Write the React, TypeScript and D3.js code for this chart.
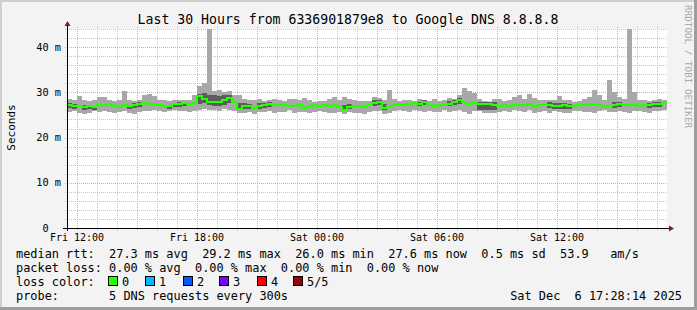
import React from 'react';
import * as d3 from 'd3';

// ---- data (15-minute bins starting Fri 11:30) ----
const medianRtt = [
  27.2,27.0,26.9,26.8,27.0,26.8,27.1,27.3,27.4,26.9,26.8,27.1,27.0,27.3,27.5,27.6,27.5,27.4,27.3,27.0,26.9,27.4,27.5,27.6,
  27.4,27.6,29.2,28.6,27.9,27.9,27.8,28.2,28.8,27.9,26.4,27.0,26.9,26.5,27.0,27.1,27.4,27.2,27.1,27.3,27.0,26.9,27.2,26.6,
  26.9,27.2,27.0,27.1,27.0,27.2,26.8,26.0,26.8,26.9,27.0,26.8,27.1,27.6,27.9,26.6,26.9,27.3,27.5,27.4,27.3,27.6,27.4,27.8,
  27.2,27.0,27.1,27.3,27.4,27.8,28.2,27.9,27.5,27.6,27.4,27.4,27.5,27.3,26.9,27.2,27.0,27.3,27.2,27.1,27.4,26.8,27.2,27.3,
  27.3,27.0,26.9,27.1,26.9,27.0,27.3,27.2,27.4,27.5,27.3,26.8,27.0,27.2,27.4,27.1,27.2,27.3,27.0,27.2,27.3,27.4,27.5,27.6,
];
const pingMin = [
  25.6,25.8,25.4,25.3,25.5,25.8,25.6,25.9,25.7,25.4,25.6,25.8,25.4,25.3,25.7,25.9,25.8,26.0,25.8,25.7,25.9,26.0,25.9,25.8,
  25.7,25.9,26.0,26.3,26.0,26.2,25.9,26.3,26.1,25.8,25.5,25.4,25.6,25.3,25.7,25.6,25.9,25.5,25.7,25.6,26.0,25.5,25.7,25.6,
  25.5,25.6,25.8,25.6,25.4,25.5,25.7,25.2,25.6,25.5,25.4,25.2,25.6,25.9,25.8,25.3,25.5,25.8,26.0,25.9,25.7,26.0,25.8,25.7,
  25.9,25.7,25.6,26.0,25.7,25.9,26.0,25.6,25.3,25.8,25.8,25.4,25.5,25.5,25.7,25.9,25.7,26.0,25.9,25.7,26.0,25.5,25.7,25.9,
  25.5,25.8,25.6,25.4,25.5,25.8,25.9,25.7,25.6,25.5,25.8,26.0,25.6,25.7,25.9,25.7,25.5,25.8,25.9,25.7,25.5,25.9,25.8,26.0,
];
const pingLow = [
  26.5,26.4,26.7,26.2,26.3,26.2,26.9,27.1,27.2,26.7,26.6,26.9,26.3,26.5,26.8,27.4,27.3,27.2,27.1,26.8,26.4,26.7,26.8,26.9,
  27.2,27.4,27.5,27.6,27.2,27.0,27.0,27.3,27.6,27.7,26.0,26.4,26.3,26.3,26.4,26.5,26.8,27.0,26.9,27.1,26.8,26.7,27.0,26.4,
  26.7,27.0,26.8,26.9,26.8,27.0,26.6,25.8,26.3,26.7,26.8,26.6,26.9,27.0,27.1,26.1,26.7,27.1,27.3,27.2,27.1,27.4,26.9,27.2,
  27.0,26.8,26.9,27.1,26.9,27.2,27.5,27.7,27.3,27.4,26.2,26.1,26.2,26.1,26.7,27.0,26.8,27.1,27.0,26.9,27.2,26.6,27.0,27.1,
  26.5,26.3,26.3,26.4,26.3,26.8,27.1,27.0,27.2,27.3,27.1,26.6,26.8,26.6,26.8,26.9,27.0,27.1,26.8,27.0,26.6,26.7,26.8,27.4,
];
const pingHigh = [
  27.6,27.4,27.1,27.1,27.3,27.0,27.3,27.5,27.6,27.1,27.0,27.3,27.3,27.6,27.8,27.8,27.7,27.6,27.5,27.2,27.3,27.7,27.9,27.9,
  27.6,27.8,29.6,29.8,29.4,29.3,29.2,29.4,29.5,28.1,27.6,27.6,27.5,26.7,27.6,27.6,27.9,27.4,27.3,27.5,27.2,27.1,27.4,26.8,
  27.1,27.4,27.2,27.3,27.2,27.4,27.0,27.1,27.4,27.1,27.2,27.0,27.3,28.2,28.3,27.4,27.1,27.5,27.7,27.6,27.5,27.8,27.9,28.3,
  27.4,27.2,27.3,27.5,28.0,28.4,28.7,28.1,27.7,27.8,27.9,27.9,27.9,27.8,27.1,27.4,27.2,27.5,27.4,27.3,27.6,27.0,27.4,27.5,
  27.8,27.6,27.6,27.7,27.5,27.2,27.5,27.4,27.6,27.7,27.5,27.0,27.2,27.8,27.9,27.3,27.4,27.5,27.2,27.4,27.7,27.8,27.9,27.8,
];
const pingMax = [
  28.6,28.3,29.1,28.2,28.0,28.3,28.9,29.0,28.4,28.1,28.3,30.3,28.2,28.0,28.4,29.4,29.6,29.1,28.3,28.2,28.0,28.2,28.3,28.2,
  28.3,29.5,31.5,32.0,50.0,30.2,30.5,30.0,30.3,29.4,29.5,28.5,28.2,28.3,28.5,28.0,28.4,28.6,28.2,28.1,28.5,28.6,28.3,28.7,
  28.2,27.9,28.1,28.0,28.6,28.9,28.3,28.9,28.6,28.2,28.0,28.1,28.0,28.9,28.7,28.4,30.6,28.5,28.1,28.3,28.2,28.0,28.5,28.3,
  28.0,28.6,28.0,28.2,28.8,28.6,29.4,31.0,30.4,29.8,28.5,28.0,27.9,28.5,28.6,28.1,28.4,29.0,29.5,28.6,29.7,28.8,28.3,28.4,
  28.2,28.3,29.1,28.4,28.2,27.9,28.0,28.5,29.0,30.5,29.3,28.4,32.7,30.1,29.0,28.5,44.0,30.0,28.4,28.2,28.0,28.3,28.6,28.2,
];

const xTickLabels = ['Fri 12:00', 'Fri 18:00', 'Sat 00:00', 'Sat 06:00', 'Sat 12:00'];
const yMajorTicks = [0, 10, 20, 30, 40];
const yTickLabels = ['0  ', '10 m', '20 m', '30 m', '40 m'];
const lossLabels = ['0', '1', '2', '3', '4', '5/5'];
const lossColors = ['#26ff00', '#00b8ff', '#0059ff', '#7e00ff', '#ff0000', '#a10000'];
const legendLines = [
  'median rtt:  27.3 ms avg  29.2 ms max  26.0 ms min  27.6 ms now  0.5 ms sd  53.9   am/s',
  'packet loss: 0.00 % avg  0.00 % max  0.00 % min  0.00 % now',
  'loss color:',
  'probe:       5 DNS requests every 300s',
];
const title = 'Last 30 Hours from 6336901879e8 to Google DNS 8.8.8.8';
const stamp = 'Sat Dec  6 17:28:14 2025';

const W = 697, H = 310;
const L = 67, R = 667, B = 228, T = 29;
const MONO = "'DejaVu Sans Mono', monospace";

export default function App() {
  const t0 = new Date(2025, 11, 5, 11, 30);
  const t1 = new Date(2025, 11, 6, 17, 30);
  const x = d3.scaleTime().domain([t0, t1]).range([L, R]);
  const y = d3.scaleLinear().domain([0, 44]).range([B, T]);
  const binTime = (i: number) => d3.timeMinute.offset(t0, 15 * i);

  const hours = d3.timeHour.range(d3.timeHour.ceil(t0), t1);
  const minorH = hours.filter((h) => h.getHours() % 3 !== 0);
  const majorH = hours.filter((h) => h.getHours() % 3 === 0);
  const labelH = hours.filter((h) => h.getHours() % 6 === 0);
  const yMinor = d3.range(2, 44.01, 2).filter((v) => v % 10 !== 0);

  const medLine = d3
    .line<number>()
    .x((_, i) => x(binTime(i)))
    .y((d) => y(d))
    .curve(d3.curveStepAfter);
  const medPath = medLine([...medianRtt, medianRtt[medianRtt.length - 1]]) || '';

  return (
    <svg width={W} height={H} style={{ position: 'absolute', left: 0, top: 0 }} fontFamily={MONO}>
      <defs>
        <clipPath id="plot">
          <rect x={L} y={T} width={R - L} height={B - T} />
        </clipPath>
      </defs>
      <rect x={0} y={0} width={W} height={H} fill="#f3f3f3" />
      <rect x={0} y={0} width={W} height={2} fill="#cfcfcf" />
      <rect x={0} y={0} width={2} height={H} fill="#cfcfcf" />
      <rect x={W - 3} y={0} width={3} height={H} fill="#9e9e9e" />
      <rect x={0} y={H - 3} width={W} height={3} fill="#9e9e9e" />
      <rect x={L} y={T} width={R - L} height={B - T} fill="#ffffff" />

      {/* grid */}
      <g strokeDasharray="1,1" strokeWidth={1} shapeRendering="crispEdges">
        {minorH.map((h, i) => (
          <line key={'vm' + i} x1={Math.round(x(h)) + 0.5} x2={Math.round(x(h)) + 0.5} y1={T - 2} y2={B + 2} stroke="#c8c8c8" />
        ))}
        {yMinor.map((v, i) => (
          <line key={'hm' + i} x1={L - 2} x2={R} y1={Math.round(y(v)) + 0.5} y2={Math.round(y(v)) + 0.5} stroke="#c8c8c8" />
        ))}
        {majorH.map((h, i) => (
          <line key={'vM' + i} x1={Math.round(x(h)) + 0.5} x2={Math.round(x(h)) + 0.5} y1={T - 2} y2={B + 2} stroke="#eea0a0" />
        ))}
        {yMajorTicks.filter((v) => v > 0).map((v, i) => (
          <line key={'hM' + i} x1={L - 2} x2={R} y1={Math.round(y(v)) + 0.5} y2={Math.round(y(v)) + 0.5} stroke="#eea0a0" />
        ))}
      </g>

      {/* smoke */}
      <g clipPath="url(#plot)" shapeRendering="crispEdges">
        {pingMax.map((v, i) => (
          <rect key={'s' + i} x={x(binTime(i))} width={x(binTime(i + 1)) - x(binTime(i))} y={y(v)} height={y(pingMin[i]) - y(v)} fill="#a8a8a8" />
        ))}
        {pingHigh.map((v, i) => (
          <rect key={'d' + i} x={x(binTime(i))} width={x(binTime(i + 1)) - x(binTime(i))} y={y(v)} height={y(pingLow[i]) - y(v)} fill="#5c5c5c" />
        ))}
        <path d={medPath} fill="none" stroke={lossColors[0]} strokeWidth={2} />
      </g>

      {/* axes */}
      <line x1={L - 4} x2={R + 3} y1={B + 0.5} y2={B + 0.5} stroke="#000" strokeWidth={1} />
      <line x1={L + 0.5} x2={L + 0.5} y1={B + 3} y2={T - 4} stroke="#000" strokeWidth={1} />
      <path d={`M${R + 7},${B + 0.5} L${R + 2},${B - 2.5} L${R + 2},${B + 3.5} Z`} fill="#7f1f1f" />
      <path d={`M${L + 0.5},${T - 8} L${L - 2.5},${T - 3} L${L + 3.5},${T - 3} Z`} fill="#7f1f1f" />

      {/* axis labels */}
      {labelH.map((h, i) => (
        <text key={'xl' + i} x={x(h)} y={241} fontSize={10} textAnchor="middle" fill="#000">
          {xTickLabels[i]}
        </text>
      ))}
      {yMajorTicks.map((v, i) => (
        <text key={'yl' + i} x={61} y={y(v) + 3.7} fontSize={10.3} textAnchor="end" fill="#000" style={{ whiteSpace: 'pre' }}>
          {yTickLabels[i]}
        </text>
      ))}
      <text transform="translate(14.5,127.5) rotate(-90)" fontSize={11} textAnchor="middle" fill="#000">Seconds</text>
      <text transform="translate(685,5) rotate(90)" fontSize={9.3} fill="#a8a8a8">RRDTOOL / TOBI OETIKER</text>

      {/* title */}
      <text x={348} y={24} fontSize={13.2} textAnchor="middle" fill="#000">{title}</text>

      {/* legend */}
      {legendLines.map((s, i) => (
        <text key={'lg' + i} x={16} y={258 + i * 14} fontSize={11.9} fill="#000" style={{ whiteSpace: 'pre' }}>
          {s}
        </text>
      ))}
      {lossLabels.map((lab, i) => {
        const bx = [108, 145, 183, 219, 257, 293][i];
        return (
          <g key={'lc' + i}>
            <rect x={bx + 0.5} y={276.5} width={9} height={9} fill={lossColors[i]} stroke="#000" strokeWidth={1} />
            <text x={bx + 14} y={286} fontSize={11.9} fill="#000">{lab}</text>
          </g>
        );
      })}
      <text x={682} y={300} fontSize={11.9} textAnchor="end" fill="#000" style={{ whiteSpace: 'pre' }}>{stamp}</text>
    </svg>
  );
}
